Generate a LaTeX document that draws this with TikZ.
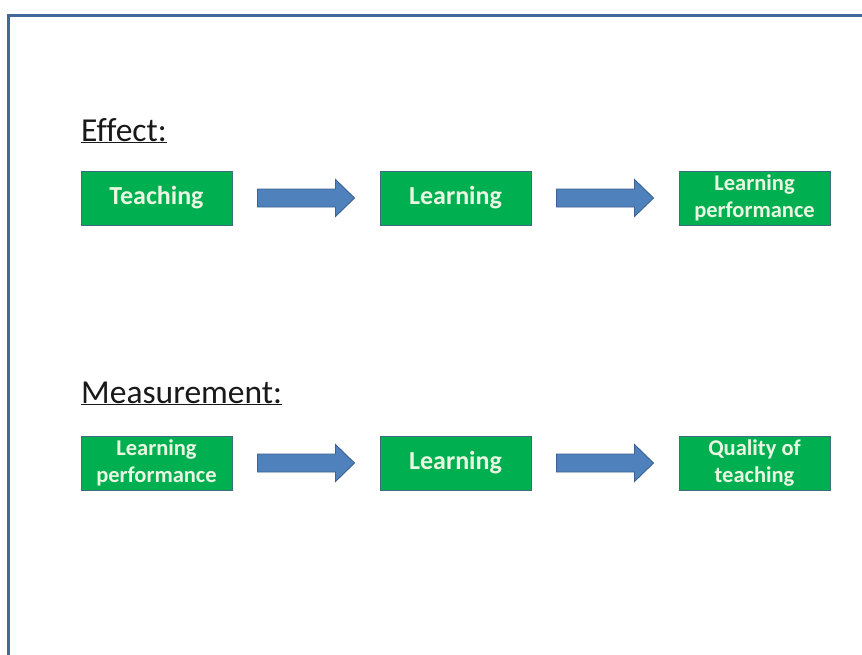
\documentclass[tikz,border=0pt]{standalone}
\usepackage{fontspec}
\setmainfont[Ligatures=NoCommon]{Carlito}
\usetikzlibrary{calc}
\definecolor{frameblue}{HTML}{44689A}
\definecolor{boxgreen}{HTML}{00B050}
\definecolor{boxedge}{HTML}{3C6E80}
\definecolor{boxtext}{HTML}{EAF6E2}
\definecolor{arrowfill}{HTML}{4F81BD}
\definecolor{arrowedge}{HTML}{3A6391}
\tikzset{
  box/.style={draw=boxedge, line width=0.9pt, fill=boxgreen, minimum width=151pt, minimum height=54pt,
    inner sep=0pt, align=center, text=boxtext, font=\fontsize{26}{30}\selectfont\bfseries},
  boxtwo/.style={box, font=\fontsize{22.5}{26.5}\selectfont\bfseries},
  heading/.style={anchor=base west, inner sep=0pt, text=black!90, font=\fontsize{33.5}{38}\selectfont},
  blockarrow/.style={fill=arrowfill, draw=arrowedge, line width=0.9pt},
  frame/.style={draw=frameblue, line width=3pt}
}
\newcommand{\mkarrow}[1]{%
  \path[blockarrow] ($(#1)+(-48.5,-9)$) -- ($(#1)+(29.5,-9)$) -- ($(#1)+(29.5,-18.5)$) -- ($(#1)+(48.5,0)$)
    -- ($(#1)+(29.5,18.5)$) -- ($(#1)+(29.5,9)$) -- ($(#1)+(-48.5,9)$) -- cycle;}
\begin{document}
\begin{tikzpicture}[x=1pt,y=-1pt]
\useasboundingbox[fill=white] (0,0) rectangle (862,654);
\begin{scope}
\clip (0,0) rectangle (862,654);
\draw[frame] (8.5,680) -- (8.5,15.5) -- (880,15.5);
\end{scope}

\node[heading] (effect) at (81,141) {\underline{Effect:}};
\node[box] (teach) at (156.5,198) {Teaching};
\node[box] (learn1) at (455.5,198) {Learning};
\node[boxtwo] (perf1) at (754.5,198) {Learning\\performance};
\coordinate (a1) at ($(teach.east)!0.5!(learn1.west)$);
\coordinate (a2) at ($(learn1.east)!0.5!(perf1.west)$);
\mkarrow{a1}
\mkarrow{a2}

\node[heading] (meas) at (81,403) {\underline{Measurement:}};
\node[boxtwo] (perf2) at (156.5,463) {Learning\\performance};
\node[box] (learn2) at (455.5,463) {Learning};
\node[boxtwo] (qual) at (754.5,463) {Quality of\\teaching};
\coordinate (a3) at ($(perf2.east)!0.5!(learn2.west)$);
\coordinate (a4) at ($(learn2.east)!0.5!(qual.west)$);
\mkarrow{a3}
\mkarrow{a4}
\end{tikzpicture}
\end{document}
